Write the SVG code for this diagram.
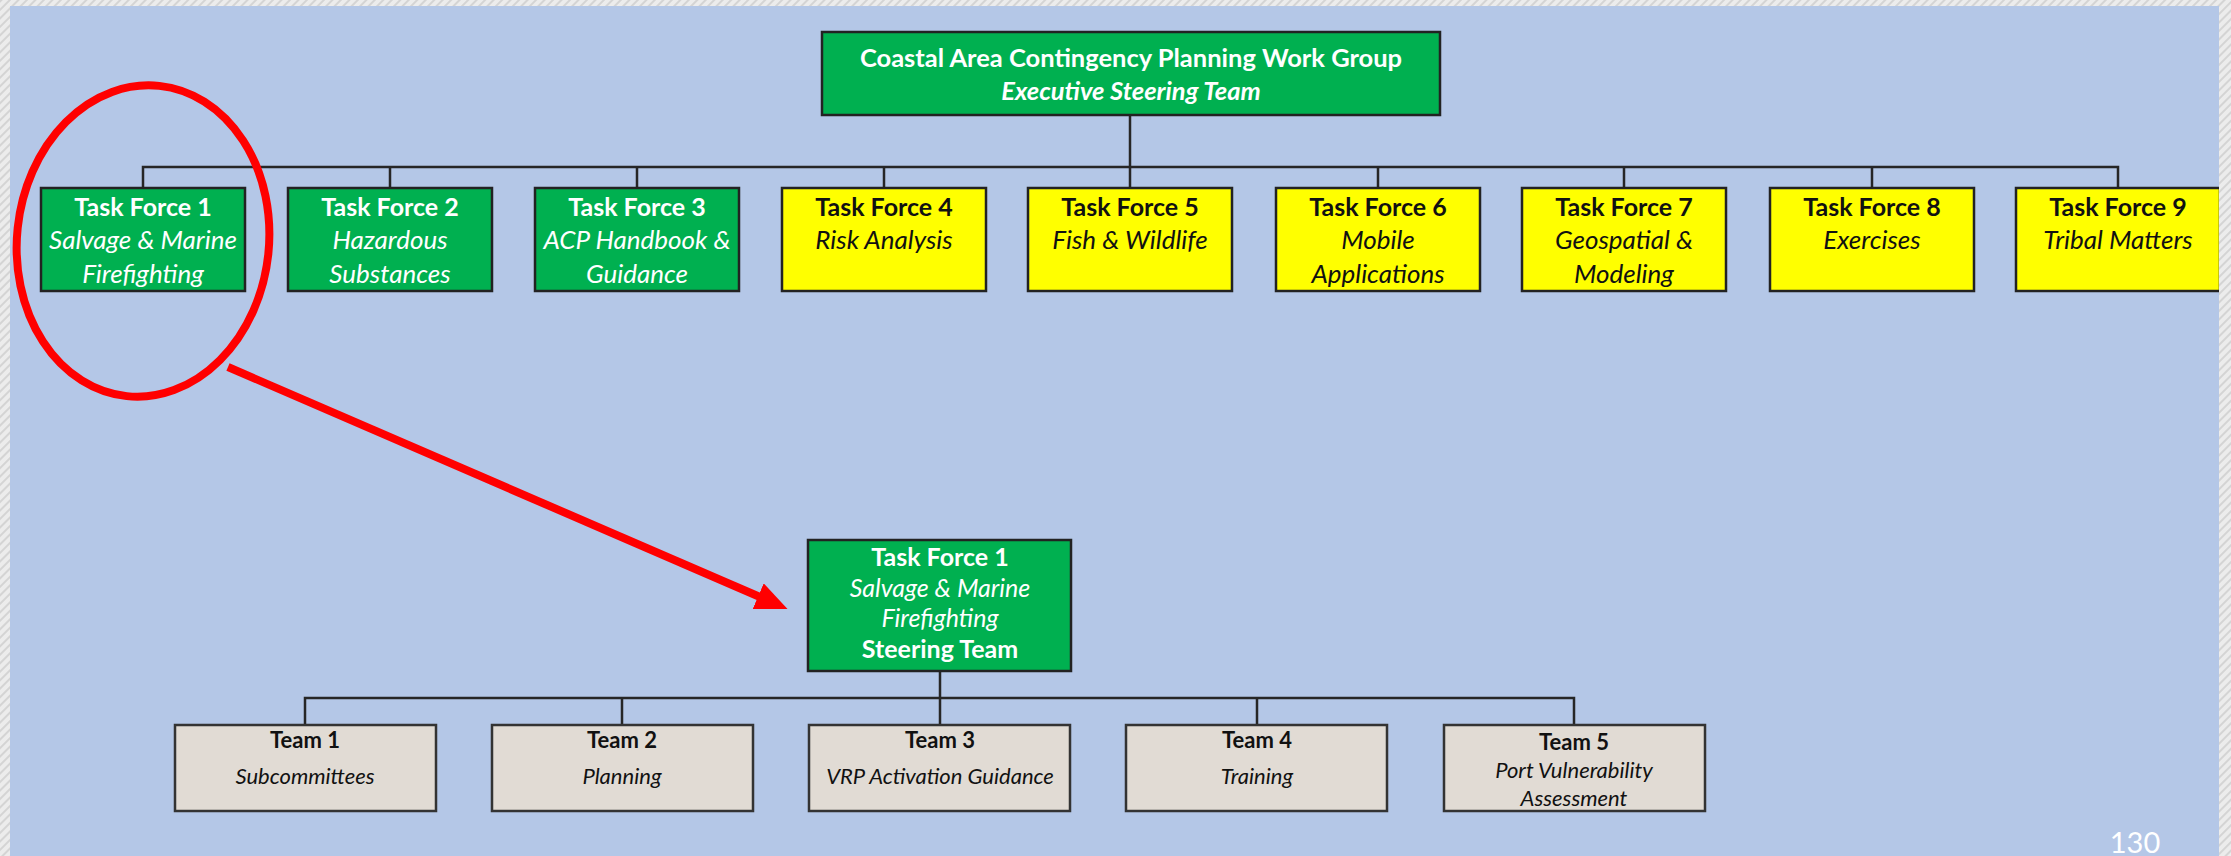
<svg xmlns="http://www.w3.org/2000/svg" width="2231" height="856" viewBox="0 0 2231 856">
<defs>
<pattern id="hatch" patternUnits="userSpaceOnUse" width="6" height="6" patternTransform="rotate(45)">
<rect width="6" height="6" fill="#ECECEC"/>
<rect width="2" height="6" fill="#D4D4D4"/>
</pattern>
<marker id="redhead" markerUnits="userSpaceOnUse" markerWidth="32" markerHeight="28" refX="2" refY="14" orient="auto">
<path d="M0,0 L32,14 L0,28 z" fill="#FF0000"/>
</marker>
</defs>
<style>
.g{fill:#00B050;stroke:#222;stroke-width:2.5}
.y{fill:#FFFF00;stroke:#222;stroke-width:2.5}
.t{fill:#E1DBD4;stroke:#333;stroke-width:2.5}
text{font-family:Lato,"Liberation Sans",sans-serif;text-anchor:middle}
.w{fill:#FFFFFF}
.k{fill:#111111}
.b{font-weight:bold;font-size:25px}
.i{font-style:italic;font-size:26px}
.bi{font-weight:bold;font-style:italic;font-size:25.5px}
.eb{font-weight:bold;font-size:25.5px}
.tb{font-weight:bold;font-size:22px}
.ti{font-style:italic;font-size:22px}
.ln{stroke:#262626;stroke-width:2.5;fill:none}
</style>
<rect x="0" y="0" width="2231" height="856" fill="#B4C7E7"/>

<g id="connectors">
<path class="ln" d="M1130,115 V167" stroke-width="3.5"/>
<path class="ln" d="M143,188 V167 H2118 V188 M390,167 V188 M637,167 V188 M884,167 V188 M1130,167 V188 M1378,167 V188 M1624,167 V188 M1872,167 V188"/>
<path class="ln" d="M940,671 V725 M305,725 V698 H1574 V725 M622,698 V725 M1257,698 V725" stroke-width="3"/>
</g>

<g id="exec">
<rect class="g" x="822" y="32" width="618" height="83"/>
<text class="w eb" x="1131" y="67">Coastal Area Contingency Planning Work Group</text>
<text class="w bi" x="1131" y="100">Executive Steering Team</text>
</g>

<g id="tf1">
<rect class="g" x="41" y="188" width="204" height="103"/>
<text class="w b" x="143" y="216">Task Force 1</text>
<text class="w i" x="143" y="249">Salvage &amp; Marine</text>
<text class="w i" x="143" y="283">Firefighting</text>
</g>
<g id="tf2">
<rect class="g" x="288" y="188" width="204" height="103"/>
<text class="w b" x="390" y="216">Task Force 2</text>
<text class="w i" x="390" y="249">Hazardous</text>
<text class="w i" x="390" y="283">Substances</text>
</g>
<g id="tf3">
<rect class="g" x="535" y="188" width="204" height="103"/>
<text class="w b" x="637" y="216">Task Force 3</text>
<text class="w i" x="637" y="249">ACP Handbook &amp;</text>
<text class="w i" x="637" y="283">Guidance</text>
</g>
<g id="tf4">
<rect class="y" x="782" y="188" width="204" height="103"/>
<text class="k b" x="884" y="216">Task Force 4</text>
<text class="k i" x="884" y="249">Risk Analysis</text>
</g>
<g id="tf5">
<rect class="y" x="1028" y="188" width="204" height="103"/>
<text class="k b" x="1130" y="216">Task Force 5</text>
<text class="k i" x="1130" y="249">Fish &amp; Wildlife</text>
</g>
<g id="tf6">
<rect class="y" x="1276" y="188" width="204" height="103"/>
<text class="k b" x="1378" y="216">Task Force 6</text>
<text class="k i" x="1378" y="249">Mobile</text>
<text class="k i" x="1378" y="283">Applications</text>
</g>
<g id="tf7">
<rect class="y" x="1522" y="188" width="204" height="103"/>
<text class="k b" x="1624" y="216">Task Force 7</text>
<text class="k i" x="1624" y="249">Geospatial &amp;</text>
<text class="k i" x="1624" y="283">Modeling</text>
</g>
<g id="tf8">
<rect class="y" x="1770" y="188" width="204" height="103"/>
<text class="k b" x="1872" y="216">Task Force 8</text>
<text class="k i" x="1872" y="249">Exercises</text>
</g>
<g id="tf9">
<rect class="y" x="2016" y="188" width="204" height="103"/>
<text class="k b" x="2118" y="216">Task Force 9</text>
<text class="k i" x="2118" y="249">Tribal Matters</text>
</g>

<g id="tf1-steering">
<rect class="g" x="808" y="540" width="263" height="131"/>
<text class="w b" x="940" y="566">Task Force 1</text>
<text class="w i" x="940" y="597" style="font-size:25px">Salvage &amp; Marine</text>
<text class="w i" x="940" y="627" style="font-size:25px">Firefighting</text>
<text class="w b" x="940" y="658">Steering Team</text>
</g>

<g id="team1">
<rect class="t" x="175" y="725" width="261" height="86"/>
<text class="k tb" x="305" y="748">Team 1</text>
<text class="k ti" x="305" y="784">Subcommittees</text>
</g>
<g id="team2">
<rect class="t" x="492" y="725" width="261" height="86"/>
<text class="k tb" x="622" y="748">Team 2</text>
<text class="k ti" x="622" y="784">Planning</text>
</g>
<g id="team3">
<rect class="t" x="809" y="725" width="261" height="86"/>
<text class="k tb" x="940" y="748">Team 3</text>
<text class="k ti" x="940" y="784">VRP Activation Guidance</text>
</g>
<g id="team4">
<rect class="t" x="1126" y="725" width="261" height="86"/>
<text class="k tb" x="1257" y="748">Team 4</text>
<text class="k ti" x="1257" y="784">Training</text>
</g>
<g id="team5">
<rect class="t" x="1444" y="725" width="261" height="86"/>
<text class="k tb" x="1574" y="750">Team 5</text>
<text class="k ti" x="1574" y="778">Port Vulnerability</text>
<text class="k ti" x="1574" y="806">Assessment</text>
</g>

<g id="highlight">
<ellipse cx="143" cy="241" rx="126" ry="156" fill="none" stroke="#FF0000" stroke-width="8" transform="rotate(6 143 241)"/>
<line x1="228" y1="367" x2="760" y2="597" stroke="#FF0000" stroke-width="8" marker-end="url(#redhead)"/>
</g>

<text x="2135" y="853" font-size="29" fill="#FFFFFF" style="font-family:Lato,'Liberation Sans',sans-serif">130</text>

<path d="M0,0 H2231 V856 H0 Z M10,6 V856 H2219 V6 Z" fill="url(#hatch)" fill-rule="evenodd"/>
</svg>
